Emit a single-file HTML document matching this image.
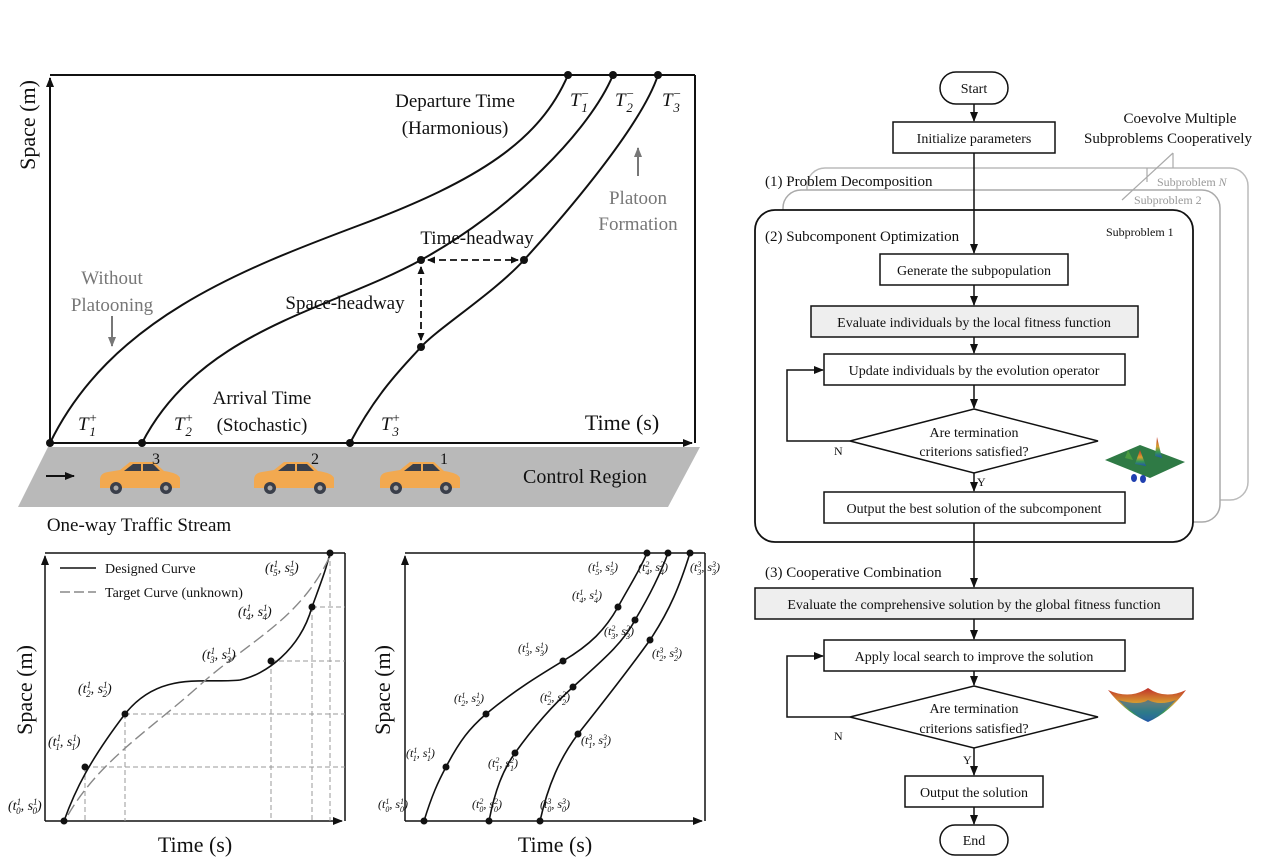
<!DOCTYPE html>
<html><head><meta charset="utf-8"><style>
html,body{margin:0;padding:0;background:#fff}
svg{display:block}
text{font-family:"Liberation Serif",serif;fill:#111}
.i{font-style:italic}
</style></head><body>
<svg width="1265" height="863" viewBox="0 0 1265 863" xmlns="http://www.w3.org/2000/svg">
<defs>
<marker id="ar" markerWidth="10" markerHeight="10" refX="9" refY="5" orient="auto" markerUnits="userSpaceOnUse"><path d="M0,1 L10,5 L0,9 Z" fill="#111"/></marker>
<marker id="ars" markerWidth="8" markerHeight="8" refX="7" refY="4" orient="auto-start-reverse" markerUnits="userSpaceOnUse"><path d="M0,0.5 L8,4 L0,7.5 Z" fill="#111"/></marker>
<marker id="arg" markerWidth="10" markerHeight="10" refX="9" refY="5" orient="auto" markerUnits="userSpaceOnUse"><path d="M0,1 L10,5 L0,9 Z" fill="#777"/></marker>
<linearGradient id="g1" x1="0" y1="0" x2="0" y2="1"><stop offset="0" stop-color="#c0302a"/><stop offset=".45" stop-color="#d8a030"/><stop offset=".7" stop-color="#3a9a50"/><stop offset="1" stop-color="#2050b0"/></linearGradient>
<g id="car">
<path d="M2,20 Q2,13 10,12 L22,10 L32,2 L56,2 L66,11 Q80,13 82,18 L82,28 L2,28 Z" fill="#f2a950"/>
<path d="M26,11 L35,4 L55,4 L62,11 Z" fill="#3a3f4a"/>
<line x1="44" y1="4" x2="44" y2="11" stroke="#f2a950" stroke-width="2"/>
<circle cx="18" cy="28" r="6" fill="#3a3f4a"/><circle cx="18" cy="28" r="2.5" fill="#aaa"/>
<circle cx="68" cy="28" r="6" fill="#3a3f4a"/><circle cx="68" cy="28" r="2.5" fill="#aaa"/>
</g>
</defs>

<polygon points="48,447 700,447 668,507 18,507" fill="#b9b9b9"/>
<line x1="50" y1="75" x2="695" y2="75" stroke="#111" stroke-width="2"/>
<line x1="695" y1="75" x2="695" y2="443" stroke="#111" stroke-width="2"/>
<line x1="50" y1="443" x2="50" y2="78" stroke="#111" stroke-width="2" marker-end="url(#ar)"/>
<line x1="50" y1="443" x2="692" y2="443" stroke="#111" stroke-width="2" marker-end="url(#ar)"/>
<g fill="none" stroke="#111" stroke-width="2">
<path d="M50,443 C110,320 240,270 360,225 S540,140 568,75"/>
<path d="M142,443 C200,330 330,310 421,260 S590,130 613,75"/>
<path d="M350,443 C378,390 405,365 421,347 S495,292 524,260 S640,130 658,75"/>
</g>
<g fill="#111">
<circle cx="50" cy="443" r="4"/><circle cx="142" cy="443" r="4"/><circle cx="350" cy="443" r="4"/>
<circle cx="568" cy="75" r="4"/><circle cx="613" cy="75" r="4"/><circle cx="658" cy="75" r="4"/>
<circle cx="421" cy="260" r="4"/><circle cx="524" cy="260" r="4"/><circle cx="421" cy="347" r="4"/>
</g>
<line x1="428" y1="260" x2="518" y2="260" stroke="#111" stroke-width="1.8" stroke-dasharray="7,4" marker-start="url(#ars)" marker-end="url(#ars)"/>
<line x1="421" y1="267" x2="421" y2="340" stroke="#111" stroke-width="1.8" stroke-dasharray="7,4" marker-start="url(#ars)" marker-end="url(#ars)"/>
<g font-size="19" text-anchor="middle">
<text x="455" y="107">Departure Time</text>
<text x="455" y="134">(Harmonious)</text>
<text x="477" y="244">Time-headway</text>
<text x="345" y="309">Space-headway</text>
<text x="262" y="404">Arrival Time</text>
<text x="262" y="431">(Stochastic)</text>
<text x="638" y="204" style="fill:#777">Platoon</text>
<text x="638" y="230" style="fill:#777">Formation</text>
<text x="112" y="284" style="fill:#777">Without</text>
<text x="112" y="311" style="fill:#777">Platooning</text>
</g>
<line x1="638" y1="176" x2="638" y2="148" stroke="#777" stroke-width="2" marker-end="url(#arg)"/>
<line x1="112" y1="316" x2="112" y2="346" stroke="#777" stroke-width="2" marker-end="url(#arg)"/>
<g font-size="19" class="i">
<text x="570" y="106">T<tspan font-size="13" dy="-8">−</tspan><tspan font-size="13" dx="-8" dy="14">1</tspan></text>
<text x="615" y="106">T<tspan font-size="13" dy="-8">−</tspan><tspan font-size="13" dx="-8" dy="14">2</tspan></text>
<text x="662" y="106">T<tspan font-size="13" dy="-8">−</tspan><tspan font-size="13" dx="-8" dy="14">3</tspan></text>
<text x="78" y="430">T<tspan font-size="13" dy="-8">+</tspan><tspan font-size="13" dx="-8" dy="14">1</tspan></text>
<text x="174" y="430">T<tspan font-size="13" dy="-8">+</tspan><tspan font-size="13" dx="-8" dy="14">2</tspan></text>
<text x="381" y="430">T<tspan font-size="13" dy="-8">+</tspan><tspan font-size="13" dx="-8" dy="14">3</tspan></text>
</g>
<text x="622" y="430" font-size="22" text-anchor="middle">Time (s)</text>
<text transform="translate(35,125) rotate(-90)" font-size="22" text-anchor="middle">Space (m)</text>
<use href="#car" x="98" y="460"/>
<use href="#car" x="252" y="460"/>
<use href="#car" x="378" y="460"/>
<g font-size="16"><text x="152" y="464">3</text><text x="311" y="464">2</text><text x="440" y="464">1</text></g>
<line x1="46" y1="476" x2="74" y2="476" stroke="#111" stroke-width="2" marker-end="url(#ar)"/>
<text x="585" y="483" font-size="20" text-anchor="middle">Control Region</text>
<text x="139" y="531" font-size="19" text-anchor="middle">One-way Traffic Stream</text>

<line x1="45" y1="553" x2="345" y2="553" stroke="#111" stroke-width="1.5"/>
<line x1="345" y1="553" x2="345" y2="821" stroke="#111" stroke-width="1.5"/>
<line x1="45" y1="821" x2="45" y2="556" stroke="#111" stroke-width="1.5" marker-end="url(#ar)"/>
<line x1="45" y1="821" x2="342" y2="821" stroke="#111" stroke-width="1.5" marker-end="url(#ar)"/>
<g stroke="#999" stroke-width="1" stroke-dasharray="5,3" fill="none">
<path d="M85,767 H345 M125,714 H345 M271,661 H345 M312,607 H345"/>
<path d="M85,767 V821 M125,714 V821 M271,661 V821 M312,607 V821 M330,553 V821"/>
</g>
<path d="M64,821 C75,790 90,760 125,714 C160,670 205,684 240,680 C265,675 300,650 312,607 C320,585 326,570 330,553" fill="none" stroke="#111" stroke-width="1.6"/>
<path d="M68,815 C100,760 150,730 200,685 C250,640 300,620 330,556" fill="none" stroke="#888" stroke-width="1.4" stroke-dasharray="12,5"/>
<g fill="#111"><circle cx="64" cy="821" r="3.5"/><circle cx="85" cy="767" r="3.5"/><circle cx="125" cy="714" r="3.5"/><circle cx="271" cy="661" r="3.5"/><circle cx="312" cy="607" r="3.5"/><circle cx="330" cy="553" r="3.5"/></g>
<line x1="60" y1="568" x2="96" y2="568" stroke="#111" stroke-width="1.4"/>
<line x1="60" y1="592" x2="96" y2="592" stroke="#888" stroke-width="1.4" stroke-dasharray="10,4"/>
<text x="105" y="573" font-size="14">Designed Curve</text>
<text x="105" y="597" font-size="14">Target Curve (unknown)</text>
<g font-size="14" class="i">
<text x="8" y="810">(t<tspan font-size="9" dy="-5">1</tspan><tspan font-size="9" dx="-5" dy="9">0</tspan><tspan dy="-4">, s</tspan><tspan font-size="9" dy="-5">1</tspan><tspan font-size="9" dx="-5" dy="9">0</tspan><tspan dy="-4">)</tspan></text>
<text x="48" y="746">(t<tspan font-size="9" dy="-5">1</tspan><tspan font-size="9" dx="-5" dy="9">1</tspan><tspan dy="-4">, s</tspan><tspan font-size="9" dy="-5">1</tspan><tspan font-size="9" dx="-5" dy="9">1</tspan><tspan dy="-4">)</tspan></text>
<text x="78" y="693">(t<tspan font-size="9" dy="-5">1</tspan><tspan font-size="9" dx="-5" dy="9">2</tspan><tspan dy="-4">, s</tspan><tspan font-size="9" dy="-5">1</tspan><tspan font-size="9" dx="-5" dy="9">2</tspan><tspan dy="-4">)</tspan></text>
<text x="202" y="659">(t<tspan font-size="9" dy="-5">1</tspan><tspan font-size="9" dx="-5" dy="9">3</tspan><tspan dy="-4">, s</tspan><tspan font-size="9" dy="-5">1</tspan><tspan font-size="9" dx="-5" dy="9">3</tspan><tspan dy="-4">)</tspan></text>
<text x="238" y="616">(t<tspan font-size="9" dy="-5">1</tspan><tspan font-size="9" dx="-5" dy="9">4</tspan><tspan dy="-4">, s</tspan><tspan font-size="9" dy="-5">1</tspan><tspan font-size="9" dx="-5" dy="9">4</tspan><tspan dy="-4">)</tspan></text>
<text x="265" y="572">(t<tspan font-size="9" dy="-5">1</tspan><tspan font-size="9" dx="-5" dy="9">5</tspan><tspan dy="-4">, s</tspan><tspan font-size="9" dy="-5">1</tspan><tspan font-size="9" dx="-5" dy="9">5</tspan><tspan dy="-4">)</tspan></text>
</g>
<text transform="translate(32,690) rotate(-90)" font-size="22" text-anchor="middle">Space (m)</text>
<text x="195" y="852" font-size="22" text-anchor="middle">Time (s)</text>

<line x1="405" y1="553" x2="705" y2="553" stroke="#111" stroke-width="1.5"/>
<line x1="705" y1="553" x2="705" y2="821" stroke="#111" stroke-width="1.5"/>
<line x1="405" y1="821" x2="405" y2="556" stroke="#111" stroke-width="1.5" marker-end="url(#ar)"/>
<line x1="405" y1="821" x2="702" y2="821" stroke="#111" stroke-width="1.5" marker-end="url(#ar)"/>
<g fill="none" stroke="#111" stroke-width="1.6">
<path d="M424,821 C432,795 438,782 446,767 C460,740 470,728 486,714 C515,690 540,675 563,661 C590,645 605,630 618,607 C630,585 640,570 647,553"/>
<path d="M489,821 C495,790 503,770 515,753 C535,725 553,705 573,687 C598,664 622,645 635,620 C650,595 660,575 668,553"/>
<path d="M540,821 C548,785 560,758 578,734 C605,700 630,668 650,640 C670,610 680,585 690,553"/>
</g>
<g fill="#111">
<circle cx="424" cy="821" r="3.5"/><circle cx="446" cy="767" r="3.5"/><circle cx="486" cy="714" r="3.5"/><circle cx="563" cy="661" r="3.5"/><circle cx="618" cy="607" r="3.5"/><circle cx="647" cy="553" r="3.5"/>
<circle cx="489" cy="821" r="3.5"/><circle cx="515" cy="753" r="3.5"/><circle cx="573" cy="687" r="3.5"/><circle cx="635" cy="620" r="3.5"/><circle cx="668" cy="553" r="3.5"/>
<circle cx="540" cy="821" r="3.5"/><circle cx="578" cy="734" r="3.5"/><circle cx="650" cy="640" r="3.5"/><circle cx="690" cy="553" r="3.5"/>
</g>
<g font-size="12" class="i">
<text x="378" y="808">(t<tspan font-size="8" dy="-4">1</tspan><tspan font-size="8" dx="-4" dy="8">0</tspan><tspan dy="-4">, s</tspan><tspan font-size="8" dy="-4">1</tspan><tspan font-size="8" dx="-4" dy="8">0</tspan><tspan dy="-4">)</tspan></text>
<text x="406" y="757">(t<tspan font-size="8" dy="-4">1</tspan><tspan font-size="8" dx="-4" dy="8">1</tspan><tspan dy="-4">, s</tspan><tspan font-size="8" dy="-4">1</tspan><tspan font-size="8" dx="-4" dy="8">1</tspan><tspan dy="-4">)</tspan></text>
<text x="454" y="702">(t<tspan font-size="8" dy="-4">1</tspan><tspan font-size="8" dx="-4" dy="8">2</tspan><tspan dy="-4">, s</tspan><tspan font-size="8" dy="-4">1</tspan><tspan font-size="8" dx="-4" dy="8">2</tspan><tspan dy="-4">)</tspan></text>
<text x="518" y="652">(t<tspan font-size="8" dy="-4">1</tspan><tspan font-size="8" dx="-4" dy="8">3</tspan><tspan dy="-4">, s</tspan><tspan font-size="8" dy="-4">1</tspan><tspan font-size="8" dx="-4" dy="8">3</tspan><tspan dy="-4">)</tspan></text>
<text x="572" y="599">(t<tspan font-size="8" dy="-4">1</tspan><tspan font-size="8" dx="-4" dy="8">4</tspan><tspan dy="-4">, s</tspan><tspan font-size="8" dy="-4">1</tspan><tspan font-size="8" dx="-4" dy="8">4</tspan><tspan dy="-4">)</tspan></text>
<text x="588" y="571">(t<tspan font-size="8" dy="-4">1</tspan><tspan font-size="8" dx="-4" dy="8">5</tspan><tspan dy="-4">, s</tspan><tspan font-size="8" dy="-4">1</tspan><tspan font-size="8" dx="-4" dy="8">5</tspan><tspan dy="-4">)</tspan></text>
<text x="488" y="767">(t<tspan font-size="8" dy="-4">2</tspan><tspan font-size="8" dx="-4" dy="8">1</tspan><tspan dy="-4">, s</tspan><tspan font-size="8" dy="-4">2</tspan><tspan font-size="8" dx="-4" dy="8">1</tspan><tspan dy="-4">)</tspan></text>
<text x="472" y="808">(t<tspan font-size="8" dy="-4">2</tspan><tspan font-size="8" dx="-4" dy="8">0</tspan><tspan dy="-4">, s</tspan><tspan font-size="8" dy="-4">2</tspan><tspan font-size="8" dx="-4" dy="8">0</tspan><tspan dy="-4">)</tspan></text>
<text x="540" y="701">(t<tspan font-size="8" dy="-4">2</tspan><tspan font-size="8" dx="-4" dy="8">2</tspan><tspan dy="-4">, s</tspan><tspan font-size="8" dy="-4">2</tspan><tspan font-size="8" dx="-4" dy="8">2</tspan><tspan dy="-4">)</tspan></text>
<text x="604" y="635">(t<tspan font-size="8" dy="-4">2</tspan><tspan font-size="8" dx="-4" dy="8">3</tspan><tspan dy="-4">, s</tspan><tspan font-size="8" dy="-4">2</tspan><tspan font-size="8" dx="-4" dy="8">3</tspan><tspan dy="-4">)</tspan></text>
<text x="638" y="571">(t<tspan font-size="8" dy="-4">2</tspan><tspan font-size="8" dx="-4" dy="8">4</tspan><tspan dy="-4">, s</tspan><tspan font-size="8" dy="-4">2</tspan><tspan font-size="8" dx="-4" dy="8">4</tspan><tspan dy="-4">)</tspan></text>
<text x="540" y="808">(t<tspan font-size="8" dy="-4">3</tspan><tspan font-size="8" dx="-4" dy="8">0</tspan><tspan dy="-4">, s</tspan><tspan font-size="8" dy="-4">3</tspan><tspan font-size="8" dx="-4" dy="8">0</tspan><tspan dy="-4">)</tspan></text>
<text x="581" y="744">(t<tspan font-size="8" dy="-4">3</tspan><tspan font-size="8" dx="-4" dy="8">1</tspan><tspan dy="-4">, s</tspan><tspan font-size="8" dy="-4">3</tspan><tspan font-size="8" dx="-4" dy="8">1</tspan><tspan dy="-4">)</tspan></text>
<text x="652" y="657">(t<tspan font-size="8" dy="-4">3</tspan><tspan font-size="8" dx="-4" dy="8">2</tspan><tspan dy="-4">, s</tspan><tspan font-size="8" dy="-4">3</tspan><tspan font-size="8" dx="-4" dy="8">2</tspan><tspan dy="-4">)</tspan></text>
<text x="690" y="571">(t<tspan font-size="8" dy="-4">3</tspan><tspan font-size="8" dx="-4" dy="8">3</tspan><tspan dy="-4">, s</tspan><tspan font-size="8" dy="-4">3</tspan><tspan font-size="8" dx="-4" dy="8">3</tspan><tspan dy="-4">)</tspan></text>
</g>
<text transform="translate(390,690) rotate(-90)" font-size="22" text-anchor="middle">Space (m)</text>
<text x="555" y="852" font-size="22" text-anchor="middle">Time (s)</text>

<rect x="807" y="168" width="441" height="332" rx="18" fill="#fff" stroke="#bbb" stroke-width="1.5"/>
<rect x="783" y="190" width="437" height="332" rx="18" fill="#fff" stroke="#aaa" stroke-width="1.5"/>
<rect x="755" y="210" width="438" height="332" rx="20" fill="#fff" stroke="#111" stroke-width="1.8"/>
<path d="M1147,168 V182 M1173,153 V168 M1173,153 L1122,200" stroke="#aaa" stroke-width="1.2" fill="none"/>
<text x="1157" y="186" font-size="12" style="fill:#999">Subproblem <tspan class="i">N</tspan></text>
<text x="1134" y="204" font-size="12" style="fill:#999">Subproblem 2</text>
<text x="1106" y="236" font-size="12">Subproblem 1</text>
<g font-size="15">
<text x="1180" y="123" text-anchor="middle">Coevolve Multiple</text>
<text x="1168" y="143" text-anchor="middle">Subproblems Cooperatively</text>
<text x="765" y="186">(1) Problem Decomposition</text>
<text x="765" y="241">(2) Subcomponent Optimization</text>
<text x="765" y="577">(3) Cooperative Combination</text>
</g>
<g stroke="#111" stroke-width="1.5" fill="none">
<line x1="974" y1="104" x2="974" y2="121" marker-end="url(#ar)"/>
<line x1="974" y1="153" x2="974" y2="253" marker-end="url(#ar)"/>
<line x1="974" y1="285" x2="974" y2="305" marker-end="url(#ar)"/>
<line x1="974" y1="337" x2="974" y2="353" marker-end="url(#ar)"/>
<line x1="974" y1="385" x2="974" y2="408" marker-end="url(#ar)"/>
<line x1="974" y1="473" x2="974" y2="491" marker-end="url(#ar)"/>
<line x1="974" y1="523" x2="974" y2="587" marker-end="url(#ar)"/>
<line x1="974" y1="619" x2="974" y2="639" marker-end="url(#ar)"/>
<line x1="974" y1="671" x2="974" y2="685" marker-end="url(#ar)"/>
<line x1="974" y1="748" x2="974" y2="775" marker-end="url(#ar)"/>
<line x1="974" y1="807" x2="974" y2="824" marker-end="url(#ar)"/>
<polyline points="850,441 787,441 787,370 823,370" marker-end="url(#ar)"/>
<polyline points="850,717 787,717 787,656 823,656" marker-end="url(#ar)"/>
</g>
<g stroke="#111" stroke-width="1.5">
<rect x="940" y="72" width="68" height="32" rx="16" fill="#fff"/>
<rect x="893" y="122" width="162" height="31" fill="#fff"/>
<rect x="880" y="254" width="188" height="31" fill="#fff"/>
<rect x="811" y="306" width="327" height="31" fill="#eee"/>
<rect x="824" y="354" width="301" height="31" fill="#fff"/>
<polygon points="974,409 1098,441 974,473 850,441" fill="#fff"/>
<rect x="824" y="492" width="301" height="31" fill="#fff"/>
<rect x="755" y="588" width="438" height="31" fill="#eee"/>
<rect x="824" y="640" width="301" height="31" fill="#fff"/>
<polygon points="974,686 1098,717 974,748 850,717" fill="#fff"/>
<rect x="905" y="776" width="138" height="31" fill="#fff"/>
<rect x="940" y="825" width="68" height="30" rx="15" fill="#fff"/>
</g>
<g font-size="14" text-anchor="middle">
<text x="974" y="93">Start</text>
<text x="974" y="143">Initialize parameters</text>
<text x="974" y="275">Generate the subpopulation</text>
<text x="974" y="327">Evaluate individuals by the local fitness function</text>
<text x="974" y="375">Update individuals by the evolution operator</text>
<text x="974" y="437">Are termination</text>
<text x="974" y="456">criterions satisfied?</text>
<text x="974" y="513">Output the best solution of the subcomponent</text>
<text x="974" y="609">Evaluate the comprehensive solution by the global fitness function</text>
<text x="974" y="661">Apply local search to improve the solution</text>
<text x="974" y="713">Are termination</text>
<text x="974" y="733">criterions satisfied?</text>
<text x="974" y="797">Output the solution</text>
<text x="974" y="845">End</text>
</g>
<g font-size="12"><text x="834" y="455">N</text><text x="977" y="486">Y</text><text x="834" y="740">N</text><text x="963" y="764">Y</text></g>
<polygon points="1105,460 1140,445 1185,462 1150,478" fill="#2f7a45"/>
<polygon points="1155,456 1157,437 1162,458" fill="url(#g1)"/>
<polygon points="1135,464 1140,450 1146,466" fill="url(#g1)"/>
<polygon points="1125,458 1128,450 1133,460" fill="#4a9a40"/>
<ellipse cx="1134" cy="478" rx="3" ry="4" fill="#2040b0"/><ellipse cx="1143" cy="479" rx="3" ry="4" fill="#2040b0"/>
<path d="M1108,690 Q1130,700 1148,688 Q1165,700 1186,690 Q1170,712 1148,722 Q1125,712 1108,690 Z" fill="url(#g1)"/>
<path d="M1118,700 Q1140,706 1148,700 Q1160,706 1176,700 Q1162,715 1148,720 Q1132,714 1118,700 Z" fill="#2a6ea0" opacity=".7"/>
</svg>
</body></html>
